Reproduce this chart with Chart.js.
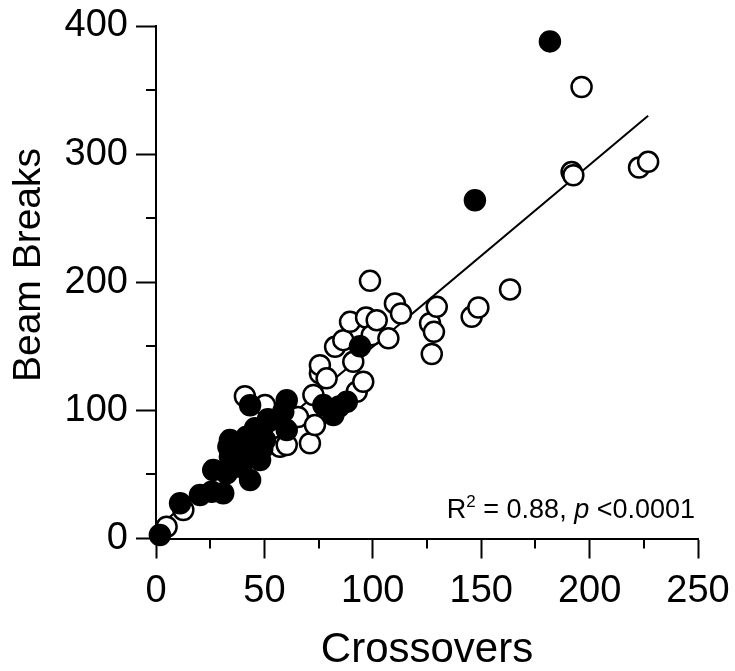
<!DOCTYPE html>
<html>
<head>
<meta charset="utf-8">
<script src="https://cdn.jsdelivr.net/npm/chart.js@4.4.1/dist/chart.umd.min.js"></script>
<style>
    html, body { margin: 0; padding: 0; background: #fff; }
    #wrap { width: 735px; height: 671px; }
</style>
</head>
<body>
<div id="wrap"><canvas id="chart" width="735" height="671"></canvas></div>
<script>
// --- Data ---
const filledX = [1.8, 11.1, 20.3, 25.7, 31, 26.4, 32.6, 33.4, 34.1, 36, 38.7, 38.7, 40, 43.4, 48, 46.4, 43.4, 34.1, 50.3, 41.8,
                 46.4, 48, 45.7, 52.6, 51.6, 43.4, 58.7, 60.3, 60.3, 49, 77.2, 81.8, 84.5, 88, 94.1, 147.1, 181.7];
const filledY = [2.7, 27.5, 34, 36.5, 35.3, 53.4, 50.9, 71.6, 63.8, 73, 71.6, 56, 59, 45.6, 61.2, 66.5, 76.8, 76.8, 76.8, 79.4,
                 84.6, 84.6, 86, 92.4, 93, 104, 99, 108, 84.6, 70, 104.1, 96.3, 103, 106.7, 150, 264, 388];

const openX = [4.9, 12.6, 41, 50.3, 57.2, 60.3, 63.3, 65.5, 71, 73.3, 72.6, 75.6, 75.6, 78.7, 82.6, 86.4, 89.5, 91, 92.6, 95.6,
               96.9, 98.7, 99.5, 101.8, 107.2, 110.2, 113, 126.4, 127.2, 128.2, 129.5, 145.6, 148.7, 163.3, 191.7, 192.5, 196.3, 222.8, 227];
const openY = [9.2, 22.2, 111, 104.1, 71.6, 73, 95, 94.8, 74.3, 88.5, 112, 128.9, 135.3, 125, 149.6, 154.8, 169.1, 137.9, 114.5, 122.3,
               172.5, 201.1, 158.7, 170.4, 156.2, 183.5, 175.6, 168, 144, 161.3, 180.8, 173, 180.3, 194.4, 286, 283.5, 352.4, 289.5, 294];

// regression line end points
const fitX = [3, 227];
const fitY = [12, 330];

const xMajor = 50, xMinor = 25;
const yMajor = 100, yMinor = 50;

const FONT = "'Liberation Sans', Arial, sans-serif";

function toPoints(xs, ys) {
    return xs.map((x, i) => ({ x: x, y: ys[i] }));
}

// --- Plugins ---
// short minor ticks (Chart.js has one tick length per axis)
const minorTicks = {
    id: 'minorTicks',
    beforeDatasetsDraw(chart) {
        const { ctx, scales: { x, y } } = chart;
        ctx.save();
        ctx.strokeStyle = '#000';
        ctx.lineWidth = 2;
        x.ticks.forEach(t => {
            if (t.value % xMajor === 0) return;
            const px = Math.round(x.getPixelForValue(t.value));
            ctx.beginPath();
            ctx.moveTo(px, x.top);
            ctx.lineTo(px, x.top + 10);
            ctx.stroke();
        });
        y.ticks.forEach(t => {
            if (t.value % yMajor === 0) return;
            const py = Math.round(y.getPixelForValue(t.value));
            ctx.beginPath();
            ctx.moveTo(y.right, py);
            ctx.lineTo(y.right - 10, py);
            ctx.stroke();
        });
        ctx.restore();
    }
};

// y title + stats note
const labels = {
    id: 'labels',
    afterDraw(chart) {
        const ctx = chart.ctx;
        ctx.save();
        ctx.fillStyle = '#000';

        ctx.translate(29, 265);
        ctx.rotate(-Math.PI / 2);
        ctx.font = '39px ' + FONT;
        ctx.textAlign = 'center';
        ctx.textBaseline = 'middle';
        ctx.fillText('Beam Breaks', 0, 0);
        ctx.setTransform(1, 0, 0, 1, 0, 0);

        // R² = 0.88, p <0.0001
        const parts = [
            { t: 'R', f: '27px ' + FONT, dy: 0 },
            { t: '2', f: '17px ' + FONT, dy: -11 },
            { t: ' = 0.88, ', f: '27px ' + FONT, dy: 0 },
            { t: 'p', f: 'italic 27px ' + FONT, dy: 0 },
            { t: ' <0.0001', f: '27px ' + FONT, dy: 0 }
        ];
        let total = 0;
        parts.forEach(p => { ctx.font = p.f; p.w = ctx.measureText(p.t).width; total += p.w; });
        let cx = 695 - total;
        ctx.textAlign = 'left';
        ctx.textBaseline = 'alphabetic';
        parts.forEach(p => {
            ctx.font = p.f;
            ctx.fillText(p.t, cx, 518 + p.dy);
            cx += p.w;
        });
        ctx.restore();
    }
};

// --- Chart ---
const ctx = document.getElementById('chart').getContext('2d');

new Chart(ctx, {
    type: 'scatter',
    data: {
        datasets: [
            {
                label: 'filled',
                data: toPoints(filledX, filledY),
                backgroundColor: '#000',
                borderColor: '#000',
                borderWidth: 2.5,
                pointRadius: 10,
                clip: false,
                order: 1
            },
            {
                label: 'open',
                data: toPoints(openX, openY),
                backgroundColor: '#fff',
                borderColor: '#000',
                borderWidth: 2.5,
                pointRadius: 10,
                clip: false,
                order: 2
            },
            {
                type: 'line',
                label: 'fit',
                data: toPoints(fitX, fitY),
                borderColor: '#000',
                borderWidth: 2,
                pointRadius: 0,
                fill: false,
                order: 3
            }
        ]
    },
    options: {
        responsive: false,
        animation: false,
        layout: { padding: { left: 0, right: 37, top: 26, bottom: 0 } },
        plugins: {
            legend: { display: false },
            tooltip: { enabled: false }
        },
        scales: {
            x: {
                type: 'linear',
                min: 0,
                max: 250,
                afterFit: s => { s.height = 132.5; s.paddingLeft = 0; s.paddingRight = 0; },
                border: { color: '#000', width: 2 },
                grid: {
                    drawOnChartArea: false,
                    tickLength: 20,
                    tickWidth: 2,
                    tickColor: c => (c.tick && c.tick.value % xMajor === 0) ? '#000' : 'rgba(0,0,0,0)'
                },
                ticks: {
                    stepSize: xMinor,
                    autoSkip: false,
                    maxRotation: 0,
                    padding: 10,
                    color: '#000',
                    font: { family: FONT, size: 38 },
                    callback: v => v % xMajor === 0 ? v : ''
                },
                title: {
                    display: true,
                    text: 'Crossovers',
                    color: '#000',
                    font: { family: FONT, size: 42, lineHeight: 1.0 },
                    padding: { top: 0, bottom: 0 }
                }
            },
            y: {
                type: 'linear',
                min: 0,
                max: 400,
                afterFit: s => { s.width = 156; s.paddingTop = 0; s.paddingBottom = 0; },
                border: { color: '#000', width: 2 },
                grid: {
                    drawOnChartArea: false,
                    tickLength: 20,
                    tickWidth: 2,
                    tickColor: c => (c.tick && c.tick.value % yMajor === 0) ? '#000' : 'rgba(0,0,0,0)'
                },
                ticks: {
                    stepSize: yMinor,
                    autoSkip: false,
                    padding: 8,
                    color: '#000',
                    font: { family: FONT, size: 38 },
                    callback: v => v % yMajor === 0 ? v : ''
                }
            }
        }
    },
    plugins: [minorTicks, labels]
});
</script>
</body>
</html>
